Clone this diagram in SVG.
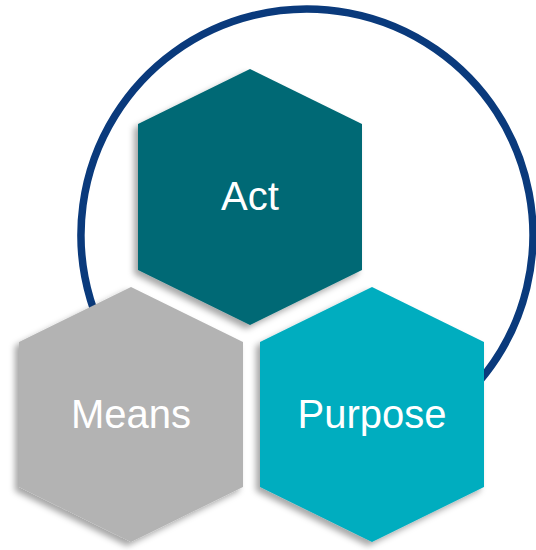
<svg xmlns="http://www.w3.org/2000/svg" width="536" height="550" viewBox="0 0 536 550">
  <defs>
    <filter id="shadow" x="-20%" y="-20%" width="140%" height="140%">
      <feDropShadow dx="-4" dy="4" stdDeviation="3" flood-color="#000" flood-opacity="0.35"/>
    </filter>
  </defs>
  <style>
    .hex { filter: url(#shadow); }
    .label { font-family: "Liberation Sans", Arial, sans-serif; font-size: 40px; fill: #ffffff; text-anchor: middle; }
  </style>
  <rect width="536" height="550" fill="#ffffff"/>
  <g id="ring">
    <path d="M131,376.8 A226,226 0 1 1 420,430.7" fill="none" stroke="#0A3A7C" stroke-width="7.5"/>
  </g>
  <g id="act">
    <polygon class="hex" fill="#006974" points="250,69 362,124 362,270 250,325 138,270 138,124"/>
    <text class="label" x="250" y="210">Act</text>
  </g>
  <g id="means">
    <polygon class="hex" fill="#B3B3B3" points="131,287 243,342 243,487 131,542 19,487 19,342"/>
    <text class="label" x="131" y="428">Means</text>
  </g>
  <g id="purpose">
    <polygon class="hex" fill="#00ADBF" points="372,287 484,342 484,487 372,542 260,487 260,342"/>
    <text class="label" x="372" y="428">Purpose</text>
  </g>
  <g id="connectors"/>
</svg>
